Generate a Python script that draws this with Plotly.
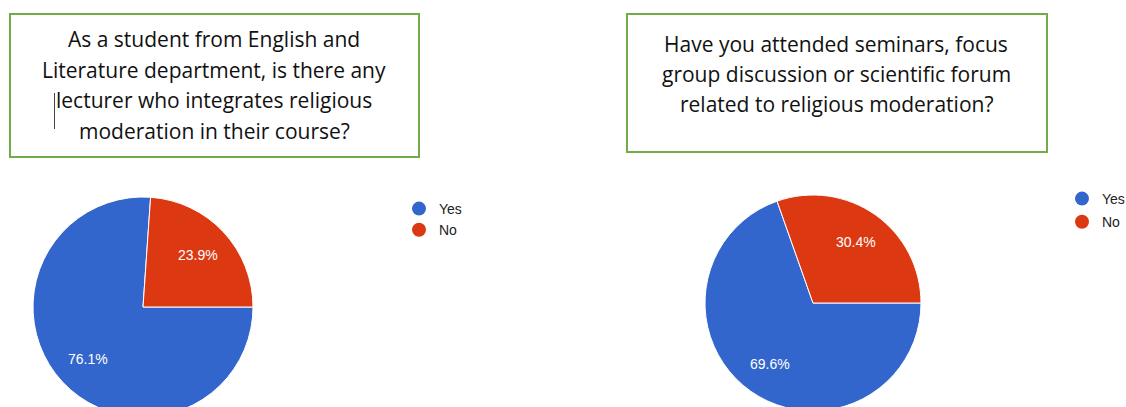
import math
import plotly.graph_objects as go

# ---- data ----
categories = ["Yes", "No"]
q1_values = [76.1, 23.9]
q2_values = [69.6, 30.4]
q1_title_lines = [
    "As a student from English and",
    "Literature department, is there any",
    "lecturer who integrates religious",
    "moderation in their course?",
]
q2_title_lines = [
    "Have you attended seminars, focus",
    "group discussion or scientific forum",
    "related to religious moderation?",
]
colors = ["#3366CC", "#DC3912"]

W, H = 1126, 430
ROTATION = 90


def fx(px):
    return px / W


def fy(py):
    return 1 - py / H


fig = go.Figure()

pie_common = dict(
    sort=False,
    direction="clockwise",
    rotation=ROTATION,
    marker=dict(colors=colors, line=dict(color="white", width=1)),
    textinfo="none",
    showlegend=False,
    hoverinfo="label+percent",
)

pies = [
    (q1_values, (143, 307, 110)),
    (q2_values, (813, 303, 108)),
]

annotations = []
for values, (cx, cy, r) in pies:
    fig.add_trace(go.Pie(labels=categories, values=values,
                         domain=dict(x=[fx(cx - r), fx(cx + r)],
                                     y=[fy(cy + r), fy(cy - r)]),
                         **pie_common))
    # percentage labels placed along each slice bisector (Google-chart style)
    total = sum(values)
    start = ROTATION
    for v in values:
        span = 360 * v / total
        mid = math.radians(start + span / 2)
        lx = cx + 0.69 * r * math.sin(mid)
        ly = cy - 0.69 * r * math.cos(mid)
        annotations.append(dict(text=f"{100 * v / total:.1f}%", x=fx(lx), y=fy(ly),
                                xref="paper", yref="paper", showarrow=False,
                                xanchor="center", yanchor="middle",
                                font=dict(family="Arial, Liberation Sans", size=14,
                                          color="white")))
        start += span

# legend entries with circle markers
for lg in ["legend", "legend2"]:
    for cat, col in zip(categories, colors):
        fig.add_trace(go.Scatter(x=[None], y=[None], mode="markers", name=cat,
                                 marker=dict(symbol="circle", size=14, color=col),
                                 legend=lg, legendgroup=lg + cat, showlegend=True,
                                 hoverinfo="skip"))

legend_common = dict(
    bgcolor="rgba(0,0,0,0)",
    xanchor="left", yanchor="top",
    traceorder="grouped",
    font=dict(family="Arial, Liberation Sans", size=14, color="#222222"),
)

shapes = [
    dict(type="rect", xref="paper", yref="paper",
         x0=fx(10), x1=fx(419), y0=fy(157), y1=fy(14),
         line=dict(color="#70AD47", width=2)),
    dict(type="rect", xref="paper", yref="paper",
         x0=fx(627), x1=fx(1047), y0=fy(152), y1=fy(14),
         line=dict(color="#70AD47", width=2)),
    dict(type="line", xref="paper", yref="paper",
         x0=fx(54.5), x1=fx(54.5), y0=fy(93), y1=fy(129),
         line=dict(color="#444444", width=1)),
]

title_font = dict(family="Open Sans", size=21, color="#111111")
for i, line in enumerate(q1_title_lines):
    annotations.append(dict(text=line, x=fx(214), y=fy(39 + i * 30.7),
                            xref="paper", yref="paper", showarrow=False,
                            xanchor="center", yanchor="middle", font=title_font))
for i, line in enumerate(q2_title_lines):
    annotations.append(dict(text=line, x=fx(836), y=fy(44 + i * 30),
                            xref="paper", yref="paper", showarrow=False,
                            xanchor="center", yanchor="middle", font=title_font))

fig.update_layout(
    width=W, height=H,
    margin=dict(l=0, r=0, t=0, b=0, autoexpand=False),
    paper_bgcolor="white", plot_bgcolor="white",
    xaxis=dict(visible=False), yaxis=dict(visible=False),
    legend=dict(x=fx(399), y=fy(193), tracegroupgap=0, **legend_common),
    legend2=dict(x=fx(1062), y=fy(183), tracegroupgap=2, **legend_common),
    shapes=shapes,
    annotations=annotations,
)

fig.write_html(
    "out.html",
    config={"displayModeBar": False},
    post_script=("document.documentElement.style.overflow='hidden';"
                 "document.body.style.margin='0';"
                 "document.body.style.overflow='hidden';"),
)
